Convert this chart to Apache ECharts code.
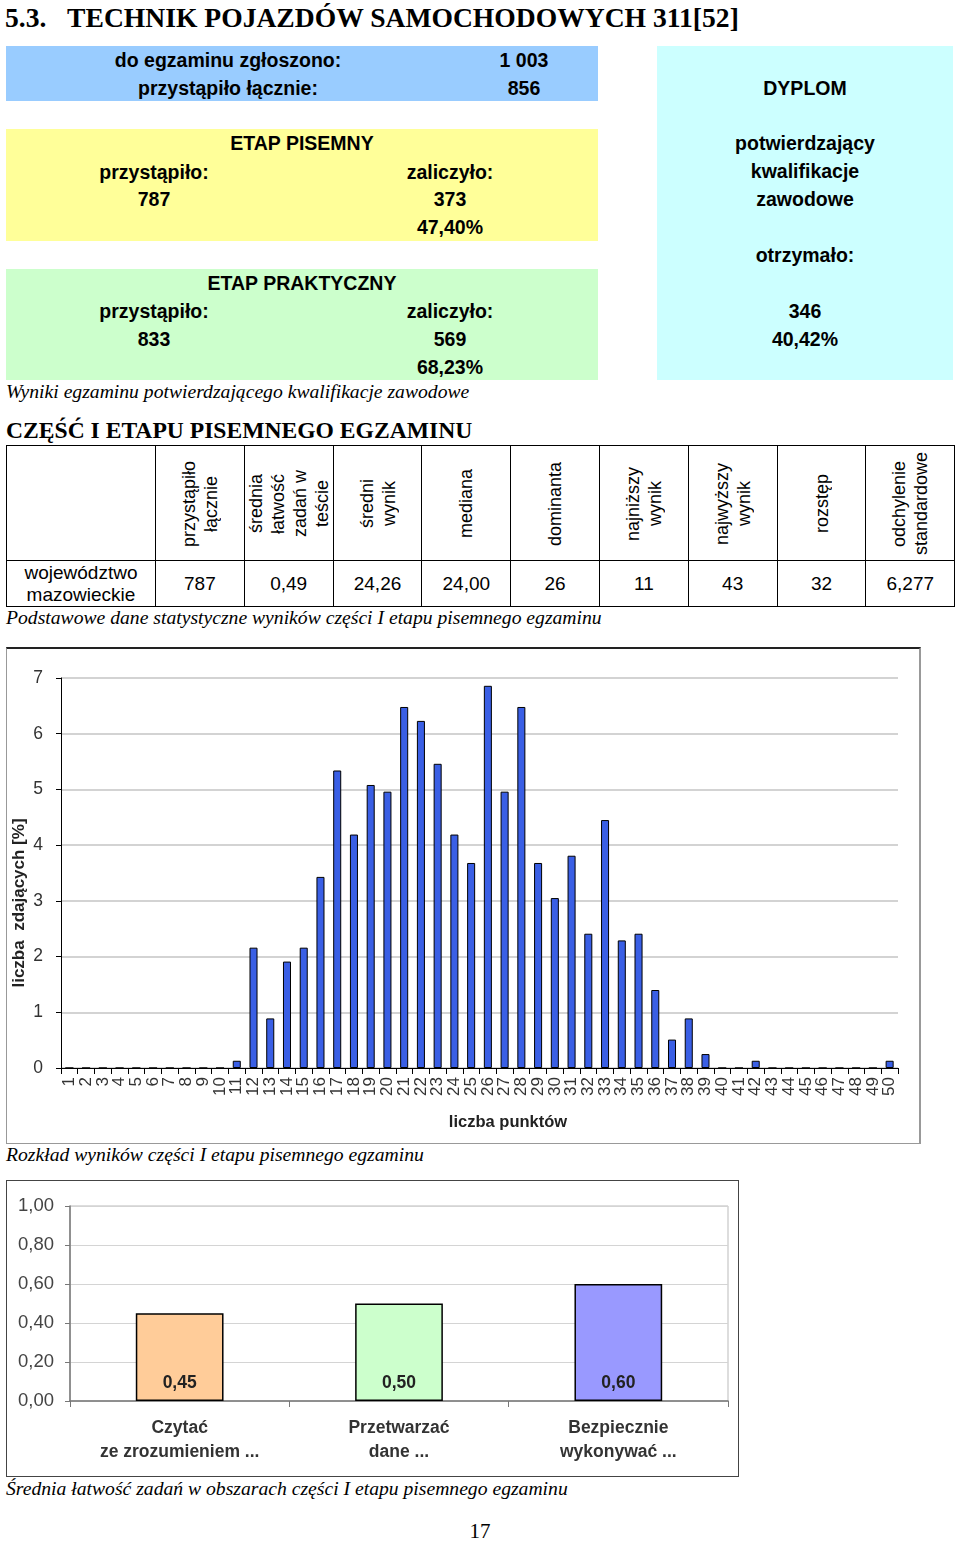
<!DOCTYPE html>
<html lang="pl">
<head>
<meta charset="utf-8">
<script src="https://cdn.jsdelivr.net/npm/echarts/dist/echarts.min.js"></script>
<style>
  html,body{margin:0;padding:0;background:#fff;}
  body{width:960px;height:1541px;position:relative;overflow:hidden;font-family:"Liberation Sans",Arial,sans-serif;color:#000;}
  .abs{position:absolute;}
  .t{position:absolute;white-space:nowrap;text-align:center;}
  .b{font-weight:bold;}
  .serif{font-family:"Liberation Serif","Times New Roman",serif;}
  .cap{position:absolute;left:6px;font-family:"Liberation Serif","Times New Roman",serif;font-style:italic;font-size:19.65px;white-space:nowrap;}
  table.stat{position:absolute;left:6px;top:445px;width:948px;border-collapse:collapse;table-layout:fixed;}
  table.stat td{border:1px solid #000;padding:0;text-align:center;vertical-align:middle;font-size:19px;}
  .rot{writing-mode:vertical-rl;transform:rotate(180deg);height:113px;width:88px;overflow:hidden;display:flex;align-items:center;justify-content:center;font-size:18px;line-height:22px;text-align:center;margin:0 auto;}
</style>
</head>
<body>
<div class="t serif b" style="left:5px;top:2px;font-size:27.6px;text-align:left;">5.3.&nbsp;&nbsp;&nbsp;TECHNIK POJAZDÓW SAMOCHODOWYCH 311[52]</div>

<div class="abs" style="left:6px;top:46px;width:592px;height:55px;background:#99ccff;"></div>
<div class="abs" style="left:6px;top:129px;width:592px;height:112px;background:#ffff99;"></div>
<div class="abs" style="left:6px;top:269px;width:592px;height:111px;background:#ccffcc;"></div>
<div class="abs" style="left:657px;top:46px;width:296px;height:334px;background:#ccffff;"></div>
<div id="boxes"></div>

<div class="cap" style="top:380px;">Wyniki egzaminu potwierdzającego kwalifikacje zawodowe</div>
<div class="t serif b" style="left:6px;top:417px;font-size:23.6px;text-align:left;">CZĘŚĆ I ETAPU PISEMNEGO EGZAMINU</div>

<table class="stat" id="stat"></table>

<div class="cap" style="top:606px;">Podstawowe dane statystyczne wyników części I etapu pisemnego egzaminu</div>

<div class="abs" style="left:6px;top:647px;width:912px;height:494px;border-top:2px solid #222;border-left:1px solid #999;border-right:2px solid #999;border-bottom:1px solid #999;"></div>
<div id="hist" class="abs" style="left:7px;top:649px;width:912px;height:492px;"></div>

<div class="cap" style="top:1143px;">Rozkład wyników części I etapu pisemnego egzaminu</div>

<div class="abs" style="left:6px;top:1180px;width:731px;height:295px;border:1px solid #444;"></div>
<div id="bars" class="abs" style="left:7px;top:1181px;width:731px;height:295px;"></div>

<div class="cap" style="top:1477px;">Średnia łatwość zadań w obszarach części I etapu pisemnego egzaminu</div>
<div class="t serif" style="left:440px;width:80px;top:1519px;font-size:21px;">17</div>

<script>
// ---- summary boxes ----
const enrolledLabels = ["do egzaminu zgłoszono:", "przystąpiło łącznie:"];
const enrolledValues = ["1 003", "856"];
const writtenStage = ["ETAP PISEMNY", "przystąpiło:", "zaliczyło:", "787", "373", "47,40%"];
const practicalStage = ["ETAP PRAKTYCZNY", "przystąpiło:", "zaliczyło:", "833", "569", "68,23%"];
const diplomaTexts = ["DYPLOM", "potwierdzający", "kwalifikacje", "zawodowe", "otrzymało:", "346", "40,42%"];

// ---- statistics table ----
const statHeaders = ["przystąpiło<br>łącznie", "średnia<br>łatwość<br>zadań w<br>teście", "średni<br>wynik", "mediana", "dominanta", "najniższy<br>wynik", "najwyższy<br>wynik", "rozstęp", "odchylenie<br>standardowe"];
const statRegion = "województwo<br>mazowieckie";
const statValues = ["787", "0,49", "24,26", "24,00", "26", "11", "43", "32", "6,277"];

// ---- histogram ----
const scoreCategories = ["1","2","3","4","5","6","7","8","9","10","11","12","13","14","15","16","17","18","19","20","21","22","23","24","25","26","27","28","29","30","31","32","33","34","35","36","37","38","39","40","41","42","43","44","45","46","47","48","49","50"];
const scorePercent = [0,0,0,0,0,0,0,0,0,0,
  0.13,2.16,0.89,1.91,2.16,3.43,5.34,4.19,5.08,4.96,
  6.48,6.23,5.46,4.19,3.68,6.86,4.96,6.48,3.68,3.05,
  3.81,2.41,4.45,2.29,2.41,1.40,0.51,0.89,0.25,0,
  0,0.13,0,0,0,0,0,0,0,0.13];
const histYTicks = [0,1,2,3,4,5,6,7];

// ---- area easiness ----
const areaCategories = ["Czytać\nze zrozumieniem ...", "Przetwarzać\ndane ...", "Bezpiecznie\nwykonywać ..."];
const areaValues = [0.45, 0.50, 0.60];
const areaColors = ["#ffcc99", "#ccffcc", "#9999ff"];

function txt(s, cx, cy, extra) {
  const d = document.createElement('div');
  d.className = 't b';
  d.style.left = (cx - 200) + 'px';
  d.style.width = '400px';
  d.style.top = (cy - 12) + 'px';
  d.style.lineHeight = '24px';
  d.style.fontSize = '19.5px';
  if (extra) Object.assign(d.style, extra);
  d.textContent = s;
  document.getElementById('boxes').appendChild(d);
}
txt(enrolledLabels[0], 228, 60); txt(enrolledValues[0], 524, 60);
txt(enrolledLabels[1], 228, 88); txt(enrolledValues[1], 524, 88);
txt(writtenStage[0], 302, 143);
txt(writtenStage[1], 154, 172); txt(writtenStage[2], 450, 172);
txt(writtenStage[3], 154, 199); txt(writtenStage[4], 450, 199);
txt(writtenStage[5], 450, 227);
txt(practicalStage[0], 302, 283);
txt(practicalStage[1], 154, 311); txt(practicalStage[2], 450, 311);
txt(practicalStage[3], 154, 339); txt(practicalStage[4], 450, 339);
txt(practicalStage[5], 450, 367);
const dipY = [88, 143, 171, 199, 255, 311, 339];
diplomaTexts.forEach((s, i) => txt(s, 805, dipY[i]));

// table
(function(){
  const tb = document.getElementById('stat');
  let cols = '<colgroup><col style="width:149px">';
  for (let i = 0; i < 9; i++) cols += '<col style="width:88.8px">';
  cols += '</colgroup>';
  let h = '<tr style="height:115px"><td></td>';
  statHeaders.forEach(s => { h += '<td><div class="rot">' + s + '</div></td>'; });
  h += '</tr>';
  let r = '<tr style="height:46px"><td style="line-height:22px;">' + statRegion + '</td>';
  statValues.forEach(v => { r += '<td>' + v + '</td>'; });
  r += '</tr>';
  tb.innerHTML = cols + h + r;
})();

// histogram chart
const hist = echarts.init(document.getElementById('hist'));
hist.setOption({
  animation: false,
  grid: { left: 54, top: 29, right: 21, bottom: 73, containLabel: false, outerBoundsMode: 'none' },
  xAxis: {
    type: 'category',
    data: scoreCategories,
    name: 'liczba punktów',
    nameLocation: 'middle',
    nameGap: 46,
    nameMoveOverlap: false,
    nameTextStyle: { fontSize: 16.5, fontWeight: 'bold', color: '#222', padding: [0, 0, 0, 57] },
    axisLine: { lineStyle: { color: '#000', width: 1 } },
    axisTick: { show: true, alignWithLabel: false, interval: 0, length: 6, lineStyle: { color: '#000' } },
    axisLabel: { interval: 0, rotate: 90, fontSize: 17, color: '#333', margin: 9, fontFamily: 'Liberation Sans' }
  },
  yAxis: {
    type: 'value',
    min: 0, max: 7, interval: 1,
    name: 'liczba  zdających [%]',
    nameLocation: 'middle',
    nameGap: 33,
    nameMoveOverlap: false,
    nameTextStyle: { fontSize: 17, fontWeight: 'bold', color: '#222', padding: [0, 60, 0, 0] },
    axisLine: { show: true, lineStyle: { color: '#000' } },
    axisTick: { show: true, length: 5, lineStyle: { color: '#000' } },
    axisLabel: { fontSize: 17.5, color: '#333', margin: 18, formatter: v => histYTicks.includes(v) ? String(v) : '' },
    splitLine: { lineStyle: { color: '#c4c4c4', width: 1.5 } }
  },
  series: [{
    type: 'bar',
    data: scorePercent,
    barWidth: '48%',
    itemStyle: { color: '#3a5fe5', borderColor: '#000', borderWidth: 1 }
  }]
});

// area chart
const bars = echarts.init(document.getElementById('bars'));
bars.setOption({
  animation: false,
  grid: { left: 63, top: 25, right: 10, bottom: 75, show: true, borderColor: '#bbb', borderWidth: 1, containLabel: false, outerBoundsMode: 'none' },
  xAxis: {
    type: 'category',
    data: areaCategories,
    axisLine: { lineStyle: { color: '#777', width: 1.5 } },
    axisTick: { show: true, length: 6, lineStyle: { color: '#777' } },
    axisLabel: { fontSize: 17.5, fontWeight: 'bold', color: '#333', lineHeight: 24, margin: 15 }
  },
  yAxis: {
    type: 'value',
    min: 0, max: 1, interval: 0.2,
    axisLine: { show: true, lineStyle: { color: '#777', width: 1.5 } },
    axisTick: { show: true, length: 5, lineStyle: { color: '#777' } },
    axisLabel: { fontSize: 18.5, color: '#444', margin: 16, formatter: v => v.toFixed(2).replace('.', ',') },
    splitLine: { lineStyle: { color: '#d4d4d4', width: 1 } }
  },
  series: [{
    type: 'bar',
    barWidth: '40%',
    data: areaValues.map((v, i) => ({ value: v, itemStyle: { color: areaColors[i] } })),
    itemStyle: { borderColor: '#000', borderWidth: 1.5 },
    label: {
      show: true, position: 'insideBottom', distance: 9,
      fontSize: 17.5, fontWeight: 'bold', color: '#222',
      formatter: p => p.value.toFixed(2).replace('.', ',')
    }
  }]
});
</script>
</body>
</html>
